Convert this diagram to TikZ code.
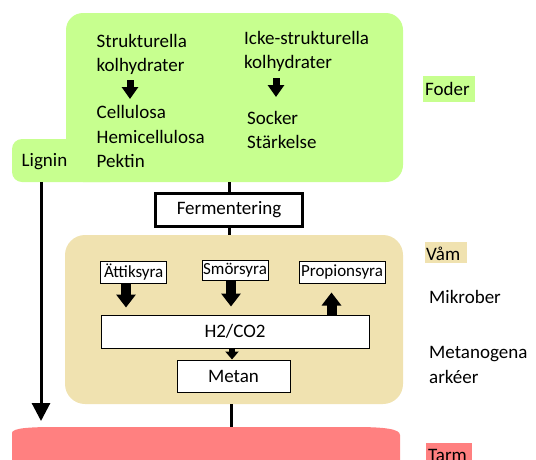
\documentclass[tikz,border=0pt]{standalone}
\usepackage{fontspec}
\setmainfont{Carlito}
\usetikzlibrary{arrows.meta}
\definecolor{foder}{RGB}{199,255,143}
\definecolor{vam}{RGB}{240,226,176}
\definecolor{tarm}{RGB}{255,128,128}
\tikzset{
  txt/.style={anchor=base west,inner sep=0pt,font=\fontsize{19}{22}\selectfont},
  thinbox/.style={draw=black,line width=1pt,fill=white,inner sep=0pt,font=\fontsize{17}{20}\selectfont},
  bigbox/.style={draw=black,line width=1pt,fill=white,inner sep=0pt,font=\fontsize{19}{22}\selectfont},
  conn/.style={line width=3pt},
  greenarrow/.style={line width=7pt,-{Triangle[width=16pt,length=12pt]}},
  vamarrow/.style={line width=10pt,-{Triangle[width=19pt,length=13pt]}},
  smallarrow/.style={line width=6pt,-{Triangle[width=13pt,length=8pt]}},
  lignarrow/.style={line width=3pt,-{Triangle[width=18pt,length=18pt]}}
}
\begin{document}
\begin{tikzpicture}[x=1pt,y=-1pt]
\useasboundingbox (0,0) rectangle (536,459);
% Foder shape
\fill[foder,rounded corners=17pt] (66,13) rectangle (403,182);
\fill[foder,rounded corners=10pt] (12,139) rectangle (120,182);
% Tarm shape
\fill[tarm] (12,470) -- (12,433) .. controls (12,428) and (30,427) .. (55,427)
  -- (355,427) .. controls (385,427) and (400,429) .. (400,435) -- (400,470) -- cycle;
\coordinate (tarmtop) at (231,427);
% Vam shape
\node[fill=vam,rounded corners=20pt,minimum width=338pt,minimum height=169pt,inner sep=0pt] (vamb) at (234,319.5) {};
% texts in green
\node[txt] (s1) at (96.5,47) {Strukturella};
\node[txt] (s2) at (96.5,71) {kolhydrater};
\node[txt] (s3) at (96.5,118) {Cellulosa};
\node[txt] (s4) at (96.5,143) {Hemicellulosa};
\node[txt] (s5) at (96.5,167) {Pektin};
\node[txt] (i1) at (244,44) {Icke-strukturella};
\node[txt] (i2) at (244,68) {kolhydrater};
\node[txt] (i3) at (247,124) {Socker};
\node[txt] (i4) at (247,148) {Stärkelse};
\node[txt] (lig) at (21.5,166) {Lignin};
\coordinate (a1s) at (130,80);
\coordinate (a1e) at (130,99);
\coordinate (a2s) at (276,78);
\coordinate (a2e) at (276,97);
\draw[greenarrow] (a1s) -- (a1e);
\draw[greenarrow] (a2s) -- (a2e);
% Lignin arrow
\coordinate (ligtop) at (41,182);
\coordinate (ligend) at (41,421);
\draw[lignarrow] (ligtop) -- (ligend);
% Fermentering
\coordinate (gbot) at (229,182);
\node[draw=black,line width=3pt,fill=white,minimum width=147pt,minimum height=33pt,inner sep=0pt,font=\fontsize{19}{22}\selectfont] (ferm) at (229,210) {Fermentering};
\draw[conn] (gbot) -- (gbot |- ferm.north);
\draw[conn] (gbot |- ferm.south) -- (gbot |- vamb.north);
% inner boxes
\node[thinbox,minimum width=66.5pt,minimum height=22pt] (att) at (133.7,272) {Ättiksyra};
\node[thinbox,minimum width=66pt,minimum height=20pt] (smo) at (235,270) {Smörsyra};
\node[thinbox,minimum width=86pt,minimum height=22pt] (prop) at (342,272) {Propionsyra};
\node[bigbox,minimum width=268pt,minimum height=33pt] (h2) at (235,331.5) {H2/CO2};
\node[bigbox,minimum width=113pt,minimum height=32pt] (met) at (233.5,376) {Metan};
\draw[vamarrow] ([xshift=-7.7pt]att.south) -- ([xshift=-7.7pt,yshift=7pt]att.south |- h2.north);
\draw[vamarrow] ([xshift=-4pt]smo.south) -- ([xshift=-4pt,yshift=8pt]smo.south |- h2.north);
\draw[vamarrow] ([xshift=-10.5pt]prop.south |- h2.north) -- ([xshift=-10.5pt,yshift=-9pt]prop.south);
\draw[smallarrow] ([xshift=-1.5pt]met.north |- h2.south) -- ([xshift=-1.5pt]met.north);
\draw[conn] (tarmtop |- vamb.south) -- (tarmtop);
% right labels
\fill[foder] (423,76) rectangle (475,102);
\node[txt] (foder) at (425,95) {Foder};
\fill[vam] (425,242) rectangle (467,263);
\node[txt] (vaml) at (426,260) {Våm};
\node[txt] (mik) at (429,303) {Mikrober};
\node[txt] (met1) at (429,358) {Metanogena};
\node[txt] (met2) at (429,383) {arkéer};
\fill[tarm] (426,443) rectangle (472,470);
\node[txt] (tarml) at (428,461) {Tarm};
\end{tikzpicture}
\end{document}
